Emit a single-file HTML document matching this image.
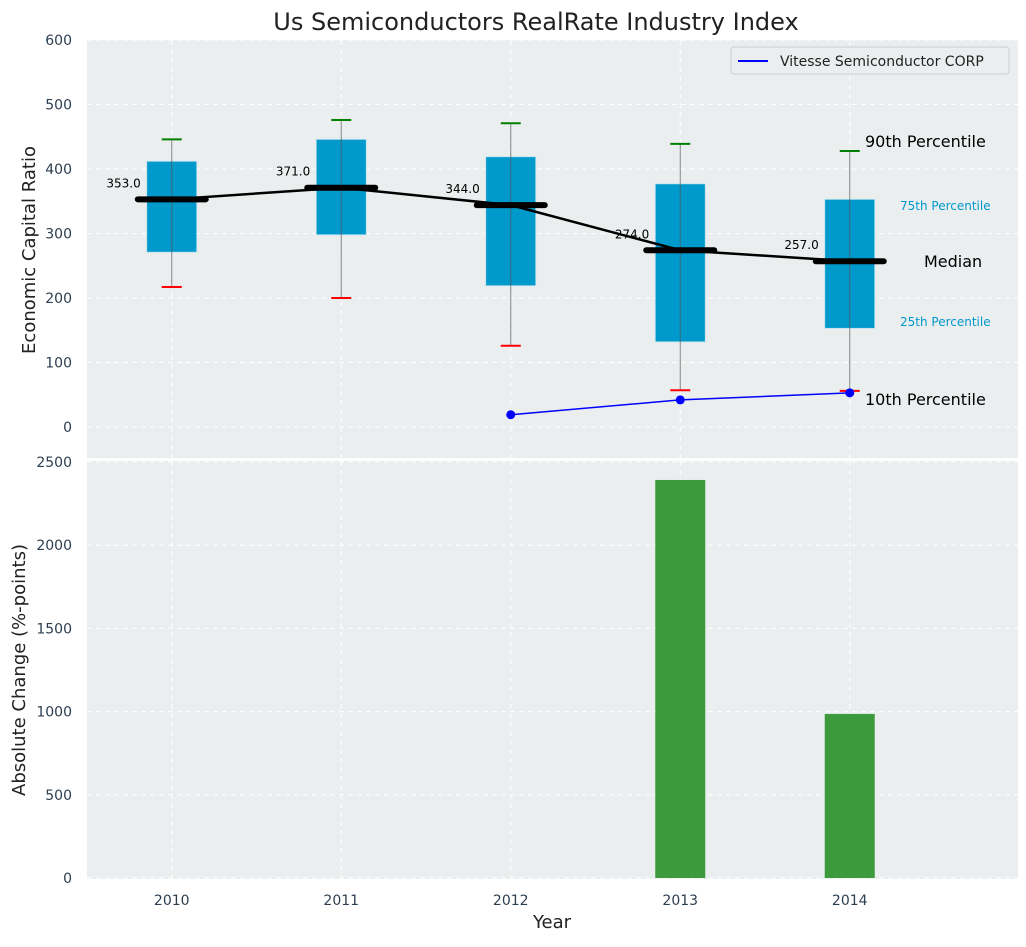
<!DOCTYPE html>
<html><head><meta charset="utf-8"><style>
body{margin:0;background:#fff;font-family:"Liberation Sans","DejaVu Sans",sans-serif;}
svg text{font-family:"DejaVu Sans","Liberation Sans",sans-serif;}
</style></head><body>
<svg id="chart" width="1026" height="942" xmlns="http://www.w3.org/2000/svg">
<text x="536" y="30" font-size="24" text-anchor="middle" fill="#222">Us Semiconductors RealRate Industry Index</text>
<rect x="87" y="40" width="931" height="418" fill="#eaeeef"/>
<rect x="87" y="461" width="931" height="418" fill="#eaeeef"/>
<g id="grid"></g><g id="marks"></g><g id="axes"></g>
<text transform="translate(35,250) rotate(-90)" font-size="18" text-anchor="middle" fill="#222">Economic Capital Ratio</text>
<text transform="translate(25,670) rotate(-90)" font-size="18" text-anchor="middle" fill="#222">Absolute Change (%-points)</text>
<text x="552" y="928" font-size="18" text-anchor="middle" fill="#222">Year</text>
<g>
<rect x="731" y="47" width="278" height="27" rx="3" fill="#eaeeef" stroke="#ccc"/>
<line x1="738" y1="61" x2="768" y2="61" stroke="#0000ff" stroke-width="2"/>
<text x="780" y="66" font-size="14" fill="#222">Vitesse Semiconductor CORP</text>
</g>
<text x="865" y="147" font-size="16" fill="#000">90th Percentile</text>
<text x="900" y="210" font-size="12" fill="#0099cc">75th Percentile</text>
<text x="924" y="267" font-size="16" fill="#000">Median</text>
<text x="900" y="326" font-size="12" fill="#0099cc">25th Percentile</text>
<text x="865" y="405" font-size="16" fill="#000">10th Percentile</text>
</svg>
<script>
const years=[2010,2011,2012,2013,2014];
const p10=[217,200,126,57,56];
const p25=[271,298,219,132,153];
const median=[353,371,344,274,257];
const p75=[412,446,419,377,353];
const p90=[446,476,471,439,428];
const companyYears=[2012,2013,2014];
const companyValues=[19,42,53];
const changeYears=[2013,2014];
const changeValues=[2392,986];
const topTicks=[0,100,200,300,400,500,600];
const bottomTicks=[0,500,1000,1500,2000,2500];

const NS="http://www.w3.org/2000/svg";
const xS=y=>87+(y-2009.5)*169.5;
const yT=v=>427-v*0.645;
const yB=v=>878-v*0.1664;
function mk(tag,attrs,parent,text){const e=document.createElementNS(NS,tag);for(const k in attrs)e.setAttribute(k,attrs[k]);if(text!==undefined)e.textContent=text;document.getElementById(parent).appendChild(e);return e;}
years.forEach(y=>{
 let g=mk('line',{x1:xS(y),x2:xS(y),y1:40,y2:458,stroke:'#fff','stroke-dasharray':'5,4'},'grid');
 
 g=mk('line',{x1:xS(y),x2:xS(y),y1:461,y2:879,stroke:'#fff','stroke-dasharray':'5,4'},'grid');
 
 const t=mk('text',{x:xS(y),y:905,'font-size':14,'text-anchor':'middle',fill:'#2c3e50'},'axes',y);
 
});
topTicks.forEach(v=>{
 const g=mk('line',{x1:87,x2:1018,y1:yT(v),y2:yT(v),stroke:'#fff','stroke-dasharray':'5,4'},'grid');
 
 const t=mk('text',{x:72,y:yT(v)+5,'font-size':14,'text-anchor':'end',fill:'#2c3e50'},'axes',v);
 
});
bottomTicks.forEach(v=>{
 const g=mk('line',{x1:87,x2:1018,y1:yB(v),y2:yB(v),stroke:'#fff','stroke-dasharray':'5,4'},'grid');
 
 const t=mk('text',{x:72,y:yB(v)+5,'font-size':14,'text-anchor':'end',fill:'#2c3e50'},'axes',v);
 
});
years.forEach((y,i)=>{
 const x=xS(y);
 let e=mk('rect',{x:x-25,y:yT(p75[i]),width:50,height:yT(p25[i])-yT(p75[i]),fill:'#0099cc',stroke:'#bfe3ef','stroke-width':0.8},'marks');
 
 e=mk('line',{x1:x,x2:x,y1:yT(p90[i]),y2:yT(p10[i]),stroke:'#555','stroke-width':1,'stroke-opacity':0.7},'marks');
 
 e=mk('line',{x1:x-10,x2:x+10,y1:yT(p90[i]),y2:yT(p90[i]),stroke:'#008000','stroke-width':2},'marks');
 
 e=mk('line',{x1:x-10,x2:x+10,y1:yT(p10[i]),y2:yT(p10[i]),stroke:'#ff0000','stroke-width':2},'marks');
 
});
let mp=mk('polyline',{points:years.map((y,i)=>xS(y)+','+yT(median[i])).join(' '),fill:'none',stroke:'#000','stroke-width':2.5},'marks');

years.forEach((y,i)=>{
 const x=xS(y);
 let e=mk('line',{x1:x-34,x2:x+34,y1:yT(median[i]),y2:yT(median[i]),stroke:'#000','stroke-width':6,'stroke-linecap':'round'},'marks');
 
 e=mk('text',{x:x-31,y:yT(median[i])-12,'font-size':12,'text-anchor':'end',fill:'#000'},'marks',median[i].toFixed(1));
 
});
let cl=mk('polyline',{points:companyYears.map((y,i)=>xS(y)+','+yT(companyValues[i])).join(' '),fill:'none',stroke:'#0000ff','stroke-width':1.5},'marks');

companyYears.forEach((y,i)=>{
 const e=mk('circle',{cx:xS(y),cy:yT(companyValues[i]),r:4.5,fill:'#0000ff'},'marks');
 
});
changeYears.forEach((y,i)=>{
 const e=mk('rect',{x:xS(y)-25,y:yB(changeValues[i]),width:50,height:yB(0)-yB(changeValues[i]),fill:'#3c9a3c'},'marks');
 
});
</script>
</body></html>
